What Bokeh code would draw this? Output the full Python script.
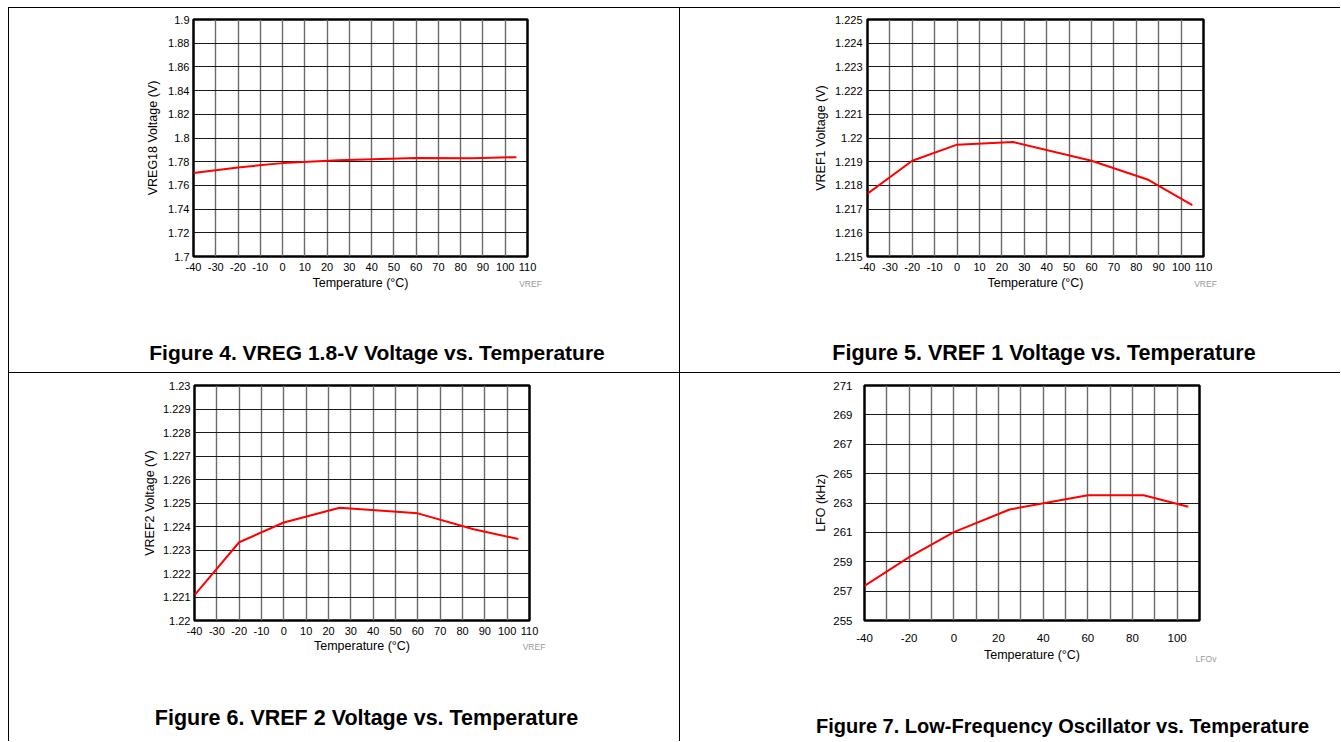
from bokeh.plotting import figure
from bokeh.models import Range1d, FixedTicker, Label, Div, Spacer
from bokeh.layouts import row, column
from bokeh.embed import file_html
from bokeh.resources import INLINE

# ---------------- data ----------------
TEMP = [-40, -20, 0, 25, 60, 85, 105]
VREG18 = [1.7705, 1.7752, 1.7788, 1.7813, 1.7832, 1.7830, 1.7838]
VREF1 = [1.21765, 1.21904, 1.21972, 1.21983, 1.21904, 1.21825, 1.21717]
VREF2 = [1.22108, 1.22333, 1.22417, 1.22480, 1.22456, 1.22388, 1.22347]
LFO = [257.36, 259.31, 261.02, 262.56, 263.53, 263.53, 262.74]

X_TICKS_10 = ["-40", "-30", "-20", "-10", "0", "10", "20", "30", "40",
              "50", "60", "70", "80", "90", "100", "110"]
X_TICKS_20 = ["-40", "-20", "0", "20", "40", "60", "80", "100"]
VREG_Y = ["1.7", "1.72", "1.74", "1.76", "1.78", "1.8", "1.82", "1.84",
          "1.86", "1.88", "1.9"]
VREF1_Y = ["1.215", "1.216", "1.217", "1.218", "1.219", "1.22", "1.221",
           "1.222", "1.223", "1.224", "1.225"]
VREF2_Y = ["1.22", "1.221", "1.222", "1.223", "1.224", "1.225", "1.226",
           "1.227", "1.228", "1.229", "1.23"]
LFO_Y = ["255", "257", "259", "261", "263", "265", "267", "269", "271"]

X_TITLE = "Temperature (°C)"
CAPTIONS = ["Figure 4. VREG 1.8-V Voltage vs. Temperature",
            "Figure 5. VREF 1 Voltage vs. Temperature",
            "Figure 6. VREF 2 Voltage vs. Temperature",
            "Figure 7. Low-Frequency Oscillator vs. Temperature"]
NOTES = ["VREF", "VREF", "VREF", "LFOv"]
Y_TITLES = ["VREG18 Voltage (V)", "VREF1 Voltage (V)", "VREF2 Voltage (V)", "LFO (kHz)"]

FONT = "Liberation Sans"
OFF_X, OFF_Y = 8, 7
LEFT_W = 670
RIGHT_W = 660
W = 1 + LEFT_W + 1 + RIGHT_W
ROW1_H = 364
ROW2_H = 368


def make(width, height, fl, fw, ft, fh, xs, ys, xlabels, xgrid, ylabels, ytitle,
         tick_size, y_std, y_lab_std, x_std, x_lab_std,
         caption, cap_xy, cap_size, note, note_xy):
    yv = [float(s) for s in ylabels]
    p = figure(width=width, height=height,
               x_range=Range1d(float(xgrid[0]), float(xgrid[-1])),
               y_range=Range1d(yv[0], yv[-1]),
               output_backend="svg", toolbar_location=None,
               min_border_left=fl, min_border_right=width - fl - fw,
               min_border_top=ft, min_border_bottom=height - ft - fh)
    p.background_fill_color = "white"
    p.border_fill_color = "white"
    p.outline_line_color = "black"
    p.outline_line_width = 2.5

    p.xaxis.ticker = FixedTicker(ticks=[float(s) for s in xlabels])
    p.xaxis.major_label_overrides = {float(s): s for s in xlabels}
    p.yaxis.ticker = FixedTicker(ticks=yv)
    p.yaxis.major_label_overrides = {float(s): s for s in ylabels}
    p.xgrid.ticker = FixedTicker(ticks=[float(s) for s in xgrid])
    p.ygrid.ticker = FixedTicker(ticks=yv)
    p.xgrid.grid_line_color = "#6a6a6a"
    p.xgrid.grid_line_width = 1.4
    p.ygrid.grid_line_color = "#1a1a1a"
    p.ygrid.grid_line_width = 1.1

    for ax in (p.xaxis[0], p.yaxis[0]):
        ax.axis_line_color = None
        ax.major_tick_line_color = None
        ax.minor_tick_line_color = None
        ax.major_tick_out = 0
        ax.major_tick_in = 0
        ax.major_label_text_font = FONT
        ax.major_label_text_font_size = f"{tick_size}px"
        ax.major_label_text_color = "black"
        ax.axis_label_text_font = FONT
        ax.axis_label_text_font_size = "12.5px"
        ax.axis_label_text_font_style = "normal"
        ax.axis_label_text_color = "black"
    p.xaxis.axis_label = X_TITLE
    p.yaxis.axis_label = ytitle
    p.yaxis.major_label_standoff = y_std
    p.yaxis.axis_label_standoff = y_lab_std
    p.xaxis.major_label_standoff = x_std
    p.xaxis.axis_label_standoff = x_lab_std

    p.line(xs, ys, line_color="#ff0000", line_width=2)

    # caption and source note, placed in the bottom side panel (canvas pixels)
    p.add_layout(Label(x=cap_xy[0], y=cap_xy[1], x_units="canvas", y_units="canvas",
                       text=caption, text_font=FONT, text_font_size=f"{cap_size}px",
                       text_font_style="bold", text_color="black",
                       text_align="center", text_baseline="middle"), "below")
    p.add_layout(Label(x=note_xy[0], y=note_xy[1], x_units="canvas", y_units="canvas",
                       text=note, text_font=FONT, text_font_size="8.5px",
                       text_color="#999999", text_align="center",
                       text_baseline="middle"), "below")
    return p


p1 = make(LEFT_W, ROW1_H, 184, 334, 11, 237, TEMP, VREG18, X_TICKS_10, X_TICKS_10,
          VREG_Y, Y_TITLES[0], 11, 4, 5, 6, 2,
          CAPTIONS[0], (367.5, 344), 21, NOTES[0], (521, 275))
p2 = make(RIGHT_W, ROW1_H, 187, 336, 9, 239, TEMP, VREF1, X_TICKS_10, X_TICKS_10,
          VREF1_Y, Y_TITLES[1], 11, 5, 4, 6, 2,
          CAPTIONS[1], (363.5, 344), 21.5, NOTES[1], (525, 275))
p3 = make(LEFT_W, ROW2_H, 185, 335, 9, 238, TEMP, VREF2, X_TICKS_10, X_TICKS_10,
          VREF2_Y, Y_TITLES[2], 11, 4, 3, 6, 1,
          CAPTIONS[2], (357, 344), 21.5, NOTES[2], (524.5, 273))
p4 = make(RIGHT_W, ROW2_H, 184, 335, 12, 237, TEMP, LFO, X_TICKS_20, X_TICKS_10,
          LFO_Y, Y_TITLES[3], 11.5, 12, 2, 13, 3,
          CAPTIONS[3], (382, 352), 20, NOTES[3], (525.5, 285))


def vline(h):
    return Div(text="", width=1, height=h, margin=0, styles={"background-color": "black"})


def hline(w):
    return Div(text="", width=w, height=1, margin=0, styles={"background-color": "black"})


table = column(hline(W),
               row(vline(ROW1_H), p1, vline(ROW1_H), p2),
               hline(W),
               row(vline(ROW2_H), p3, vline(ROW2_H), p4))
layout = column(Spacer(width=W + OFF_X, height=OFF_Y, margin=0),
                row(Spacer(width=OFF_X, height=10, margin=0), table))

open("out.html", "w").write(file_html(layout, INLINE))
